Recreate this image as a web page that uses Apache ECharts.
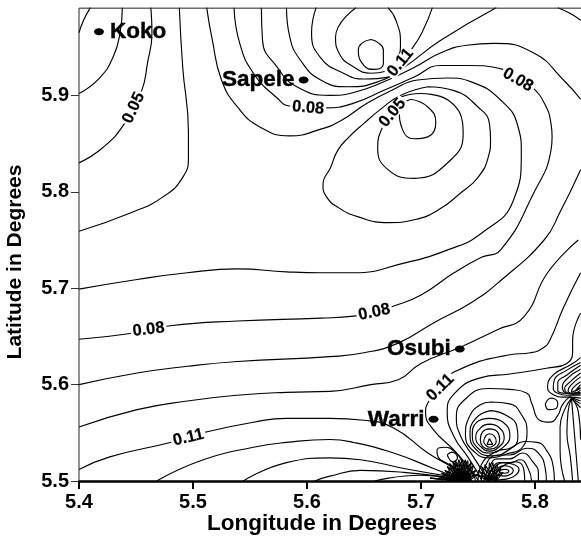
<!DOCTYPE html>
<html><head><meta charset="utf-8">
<style>html,body{margin:0;padding:0;background:#fff;overflow:hidden}#c{width:581px;height:539px}</style>
<script src="https://cdn.jsdelivr.net/npm/echarts@6/dist/echarts.min.js"></script>
</head><body><div id="c"></div>
<script>
// Contours, [longitude, latitude]
const t1=[[5.410,5.991],[5.404,5.978],[5.400,5.965]];
const t2=[[5.438,5.991],[5.436,5.965],[5.430,5.940],[5.418,5.918],[5.400,5.902]];
const t3=[[5.463,5.991],[5.464,5.965],[5.460,5.933],[5.455,5.905],[5.440,5.871],[5.421,5.846],[5.400,5.830]];
const t4=[[5.488,5.991],[5.491,5.929],[5.496,5.861],[5.496,5.836],[5.491,5.815],[5.474,5.795],[5.445,5.778],[5.400,5.759]];
const lineA=[[5.512,5.991],[5.517,5.957],[5.525,5.916],[5.539,5.888],[5.559,5.867],[5.585,5.858],[5.612,5.865],[5.630,5.874],[5.653,5.892],[5.674,5.905],[5.697,5.916],[5.724,5.918],[5.744,5.914],[5.770,5.895],[5.785,5.868],[5.788,5.840],[5.781,5.791],[5.753,5.757],[5.724,5.740],[5.685,5.726],[5.641,5.716],[5.612,5.716],[5.582,5.717],[5.539,5.720],[5.495,5.716],[5.451,5.709],[5.400,5.699]];
const lineB=[[5.536,5.991],[5.541,5.954],[5.553,5.923],[5.574,5.897],[5.585,5.889],[5.617,5.887],[5.641,5.892],[5.667,5.905],[5.694,5.919],[5.717,5.931],[5.741,5.931],[5.772,5.927],[5.785,5.918],[5.798,5.908],[5.809,5.890],[5.814,5.871],[5.815,5.857],[5.814,5.843],[5.799,5.799],[5.770,5.740],[5.753,5.732],[5.729,5.716],[5.700,5.693],[5.675,5.681],[5.659,5.675],[5.641,5.671],[5.612,5.669],[5.539,5.666],[5.480,5.661],[5.445,5.653],[5.400,5.647]];
const lineC=[[5.560,5.991],[5.561,5.957],[5.574,5.929],[5.591,5.909],[5.620,5.900],[5.641,5.903],[5.671,5.916],[5.694,5.929],[5.717,5.944],[5.740,5.952],[5.764,5.954],[5.799,5.944],[5.825,5.916],[5.840,5.896]];
const lineD=[[5.582,5.991],[5.585,5.960],[5.594,5.937],[5.612,5.916],[5.636,5.909],[5.662,5.914],[5.685,5.929],[5.717,5.957],[5.766,5.991]];
const lineE=[[5.608,5.991],[5.604,5.965],[5.612,5.939],[5.632,5.923],[5.650,5.917],[5.671,5.919],[5.693,5.950],[5.702,5.968],[5.710,5.991]];
const highOuter=[[5.643,5.991],[5.625,5.960],[5.629,5.942],[5.639,5.931],[5.656,5.923],[5.669,5.925],[5.679,5.937],[5.682,5.954],[5.678,5.978],[5.671,5.991]];
const highInner=[[5.656,5.958],[5.648,5.954],[5.645,5.947],[5.650,5.931],[5.659,5.927],[5.667,5.933],[5.667,5.947],[5.662,5.955],[5.656,5.958]];
const lowOuter=[[5.706,5.909],[5.682,5.900],[5.665,5.886],[5.650,5.871],[5.637,5.857],[5.627,5.843],[5.621,5.826],[5.614,5.807],[5.617,5.795],[5.627,5.784],[5.645,5.774],[5.671,5.768],[5.694,5.771],[5.715,5.781],[5.735,5.799],[5.750,5.815],[5.759,5.836],[5.761,5.854],[5.760,5.871],[5.750,5.888],[5.729,5.905],[5.706,5.909]];
const lowMiddle=[[5.700,5.902],[5.724,5.895],[5.737,5.861],[5.726,5.833],[5.694,5.814],[5.671,5.823],[5.662,5.846],[5.667,5.869],[5.675,5.882],[5.682,5.898],[5.700,5.902]];
const lowInner=[[5.691,5.896],[5.706,5.888],[5.713,5.872],[5.706,5.857],[5.694,5.855],[5.684,5.864],[5.681,5.885],[5.691,5.896]];
const cornerNE=[[5.820,5.991],[5.831,5.985],[5.840,5.978]];
const lineF=[[5.400,5.600],[5.451,5.612],[5.495,5.619],[5.539,5.624],[5.620,5.629],[5.650,5.633],[5.680,5.643],[5.711,5.664],[5.744,5.685],[5.770,5.708],[5.808,5.750],[5.822,5.779],[5.840,5.823]];
const lineG=[[5.400,5.556],[5.451,5.574],[5.495,5.583],[5.539,5.589],[5.582,5.592],[5.620,5.593],[5.656,5.600],[5.680,5.605],[5.700,5.622],[5.735,5.639],[5.767,5.657],[5.790,5.670],[5.811,5.716],[5.838,5.750]];
const lineH=[[5.840,5.716],[5.825,5.680],[5.813,5.646],[5.807,5.638],[5.796,5.633],[5.778,5.631],[5.729,5.613],[5.717,5.597],[5.706,5.581],[5.704,5.571],[5.711,5.553],[5.729,5.532],[5.744,5.511],[5.750,5.501]];
const lineI=[[5.840,5.674],[5.833,5.646],[5.833,5.636],[5.828,5.622],[5.810,5.617],[5.778,5.611],[5.752,5.607],[5.728,5.589],[5.723,5.571],[5.729,5.546],[5.741,5.525],[5.750,5.508],[5.753,5.501]];
const lineJ=[[5.831,5.588],[5.824,5.579],[5.820,5.568],[5.813,5.561],[5.804,5.563],[5.797,5.581],[5.793,5.591],[5.778,5.595],[5.759,5.596],[5.738,5.584],[5.731,5.566],[5.735,5.546],[5.746,5.525],[5.755,5.508],[5.758,5.501]];
const warriOuter=[[5.736,5.520],[5.730,5.530],[5.721,5.535],[5.714,5.532],[5.715,5.525],[5.725,5.517],[5.736,5.509]];
const warriInner=[[5.723,5.527],[5.727,5.530],[5.732,5.524],[5.728,5.520],[5.723,5.527]];
const fanE=[[5.400,5.512],[5.427,5.525],[5.480,5.540],[5.512,5.551],[5.553,5.561],[5.582,5.565],[5.620,5.565],[5.650,5.563],[5.676,5.555],[5.706,5.529],[5.729,5.513],[5.741,5.503]];
const fanF=[[5.468,5.500],[5.509,5.522],[5.553,5.535],[5.582,5.540],[5.620,5.543],[5.641,5.540],[5.676,5.529],[5.711,5.513],[5.732,5.503]];
const fanG=[[5.544,5.500],[5.582,5.519],[5.620,5.524],[5.647,5.522],[5.685,5.513],[5.729,5.504]];
const fanH=[[5.607,5.500],[5.620,5.505],[5.647,5.511],[5.685,5.509],[5.729,5.503]];
const fanJ=[[5.659,5.500],[5.699,5.506],[5.725,5.503]];
const ring1=[[5.760,5.544],[5.763,5.538],[5.758,5.538],[5.760,5.544]];
const ring2=[[5.760,5.549],[5.764,5.547],[5.766,5.541],[5.764,5.537],[5.760,5.535],[5.757,5.537],[5.755,5.541],[5.757,5.547],[5.760,5.549]];
const ring3=[[5.760,5.554],[5.767,5.551],[5.769,5.543],[5.767,5.536],[5.760,5.533],[5.754,5.536],[5.752,5.543],[5.754,5.551],[5.760,5.554]];
const ring4=[[5.760,5.559],[5.768,5.556],[5.773,5.545],[5.768,5.535],[5.760,5.531],[5.753,5.535],[5.748,5.545],[5.753,5.556],[5.760,5.559]];
const ring5=[[5.760,5.565],[5.772,5.561],[5.778,5.547],[5.771,5.534],[5.760,5.529],[5.750,5.534],[5.745,5.547],[5.749,5.561],[5.760,5.565]];
const ring6=[[5.761,5.573],[5.775,5.568],[5.784,5.557],[5.785,5.545],[5.778,5.533],[5.761,5.526],[5.748,5.533],[5.743,5.548],[5.748,5.565],[5.761,5.573]];
const ring7=[[5.761,5.582],[5.778,5.580],[5.788,5.569],[5.793,5.552],[5.789,5.535],[5.775,5.528],[5.761,5.524],[5.747,5.530],[5.739,5.548],[5.743,5.568],[5.752,5.579],[5.761,5.582]];
const arch1=[[5.750,5.500],[5.753,5.517],[5.765,5.530],[5.778,5.534],[5.791,5.541],[5.802,5.540],[5.810,5.532],[5.816,5.515],[5.817,5.500]];
const arch2=[[5.753,5.500],[5.756,5.515],[5.767,5.527],[5.778,5.527],[5.793,5.534],[5.803,5.529],[5.809,5.513],[5.810,5.500]];
const arch3=[[5.755,5.500],[5.759,5.512],[5.767,5.523],[5.778,5.523],[5.789,5.529],[5.798,5.520],[5.803,5.508],[5.803,5.500]];
const arch4=[[5.758,5.500],[5.761,5.510],[5.769,5.519],[5.778,5.519],[5.787,5.522],[5.794,5.513],[5.797,5.500]];
const arch5=[[5.760,5.500],[5.765,5.508],[5.774,5.517],[5.783,5.520],[5.790,5.513],[5.791,5.500]];
const oval0=[[5.768,5.510],[5.773,5.512],[5.777,5.510],[5.773,5.508],[5.768,5.510]];
const oval1=[[5.764,5.509],[5.773,5.516],[5.781,5.511],[5.773,5.505],[5.764,5.509]];
const oval2=[[5.760,5.507],[5.772,5.519],[5.786,5.512],[5.775,5.502],[5.762,5.501],[5.760,5.507]];
const drop2=[[5.832,5.586],[5.826,5.574],[5.822,5.556],[5.822,5.532],[5.826,5.500]];
const drop3=[[5.832,5.586],[5.829,5.572],[5.828,5.550],[5.831,5.525],[5.833,5.500]];
const drop4=[[5.832,5.586],[5.833,5.572],[5.835,5.543],[5.838,5.500]];
const drop5=[[5.832,5.586],[5.838,5.572],[5.840,5.543]];
const eastOval=[[5.809,5.580],[5.814,5.586],[5.820,5.581],[5.818,5.575],[5.812,5.574],[5.809,5.580]];
const east1=[[5.840,5.628],[5.832,5.621],[5.816,5.610],[5.811,5.597],[5.817,5.589],[5.824,5.587],[5.831,5.587],[5.840,5.586]];
const east2=[[5.840,5.623],[5.828,5.615],[5.817,5.605],[5.816,5.596],[5.820,5.591],[5.828,5.589],[5.840,5.589]];
const east3=[[5.840,5.620],[5.828,5.610],[5.820,5.602],[5.820,5.594],[5.826,5.591],[5.840,5.590]];
const east4=[[5.840,5.616],[5.829,5.607],[5.824,5.597],[5.826,5.592],[5.833,5.590],[5.840,5.591]];
const east5=[[5.840,5.612],[5.831,5.603],[5.826,5.596],[5.831,5.591],[5.840,5.592]];
const east6=[[5.840,5.608],[5.832,5.600],[5.829,5.594],[5.833,5.591],[5.840,5.594]];
const east7=[[5.840,5.603],[5.833,5.596],[5.832,5.592],[5.840,5.596]];
const east8=[[5.840,5.600],[5.835,5.593],[5.840,5.597]];
const east9=[[5.832,5.586],[5.840,5.580]];
const east10=[[5.832,5.586],[5.840,5.576]];
const east11=[[5.831,5.587],[5.840,5.583]];
const hubArc1=[[5.718,5.500],[5.725,5.511],[5.736,5.516],[5.744,5.510],[5.748,5.500]];
const hubArc2=[[5.723,5.500],[5.729,5.508],[5.736,5.510],[5.742,5.506],[5.744,5.500]];
// Crowded contours that converge on points at the lower edge
const hubCentres=[[5.736,5.500],[5.730,5.500],[5.742,5.500],[5.759,5.500],[5.766,5.500]];
const hubWestEnds=[[5.708,5.503],[5.714,5.505],[5.718,5.508],[5.721,5.511],[5.723,5.515],[5.725,5.518],[5.728,5.520],[5.730,5.521],[5.733,5.522],[5.736,5.522],[5.739,5.522],[5.741,5.521],[5.744,5.519],[5.746,5.516],[5.748,5.511],[5.750,5.507]];
const hubEastEnds=[[5.748,5.507],[5.750,5.511],[5.753,5.515],[5.756,5.517],[5.760,5.519],[5.763,5.519],[5.767,5.517],[5.770,5.513],[5.772,5.509]];

const contours=[t1,t2,t3,t4,lineA,lineB,lineC,lineD,lineE,highOuter,highInner,lowOuter,lowMiddle,lowInner,cornerNE,lineF,lineG,lineH,lineI,lineJ,warriOuter,warriInner,fanE,fanF,fanG,fanH,fanJ,ring1,ring2,ring3,ring4,ring5,ring6,ring7,arch1,arch2,arch3,arch4,arch5,oval0,oval1,oval2,drop2,drop3,drop4,drop5,eastOval,east1,east2,east3,east4,east5,east6,east7,east8,east9,east10,east11,hubArc1,hubArc2];

const frameLine=[[5.4,5.5],[5.4,5.9905],[5.9,5.9905]];
const labelNames=['0.05','0.08','0.11','0.05','0.08','0.08','0.11','0.08','0.11'];
const labelLon=[5.448,5.601,5.682,5.675,5.785,5.461,5.496,5.659,5.717];
const labelLat=[5.887,5.887,5.934,5.882,5.916,5.657,5.545,5.675,5.597];
const labelTilt=[65,-5,50,50,-30,7,13,12,45];
const cityNames=['Koko','Sapele','Osubi','Warri'];
const cityLon=[5.4175,5.597,5.734,5.711];
const cityLat=[5.966,5.916,5.637,5.564];
const citySide=['right','left','left','left'];

const lineBase={type:'line',symbol:'none',silent:true,animation:false,z:2,clip:true};
const series=contours.map(d=>({...lineBase,data:d,smooth:0.5,lineStyle:{color:'#000',width:1.15}}));
hubCentres.slice(0,3).forEach(c=>hubWestEnds.forEach(e=>series.push({...lineBase,data:[c,e],lineStyle:{color:'#000',width:1.1}})));
hubCentres.slice(3).forEach(c=>hubEastEnds.forEach(e=>series.push({...lineBase,data:[c,e],lineStyle:{color:'#000',width:1.1}})));
series.push({...lineBase,data:frameLine,lineStyle:{color:'#222',width:1},z:3});
series.push({type:'scatter',silent:true,animation:false,z:5,symbolSize:2,itemStyle:{color:'rgba(0,0,0,0)'},
  data:labelNames.map((n,i)=>({name:n,value:[labelLon[i],labelLat[i]],
    label:{show:true,position:'inside',rotate:labelTilt[i],formatter:n,color:'#000',opacity:1,fontFamily:'Liberation Sans',fontWeight:'bold',fontSize:16.5,backgroundColor:'#fff',padding:[0,2],lineHeight:13,textBorderColor:'#000',textBorderWidth:0.2}}))});
series.push({type:'scatter',silent:true,animation:false,z:6,symbol:'circle',symbolSize:[10,7],itemStyle:{color:'#000',opacity:1},
  data:cityNames.map((n,i)=>({name:n,value:[cityLon[i],cityLat[i]],
    label:{show:true,position:citySide[i],distance:n==='Koko'?6:4,formatter:n,color:'#000',opacity:1,fontFamily:'Liberation Sans',fontWeight:'bold',fontSize:22.5,textBorderColor:'#000',textBorderWidth:0.4}}))});

const chart=echarts.init(document.getElementById('c'),null,{renderer:'canvas'});
chart.setOption({
  animation:false,backgroundColor:'#fff',
  grid:{left:79,top:-1,width:570,height:482,containLabel:false,outerBoundsMode:'none'},
  xAxis:{type:'value',min:5.4,max:5.9,interval:0.1,splitLine:{show:false},
    axisLine:{show:true,onZero:false,lineStyle:{color:'#000',width:2.5}},
    axisTick:{length:8,lineStyle:{color:'#000',width:2}},
    axisLabel:{margin:11,color:'#000',fontFamily:'Liberation Sans',fontWeight:'bold',fontSize:20,formatter:v=>v.toFixed(1)}},
  yAxis:{type:'value',min:5.5,max:6.0,interval:0.1,splitLine:{show:false},
    axisLine:{show:false},
    axisTick:{length:8,lineStyle:{color:'#333',width:1}},
    axisLabel:{margin:10,showMaxLabel:false,color:'#000',fontFamily:'Liberation Sans',fontWeight:'bold',fontSize:20,formatter:v=>v.toFixed(1)}},
  graphic:[
    {type:'text',x:322,y:524,silent:true,style:{text:'Longitude in Degrees',fill:'#000',font:'bold 22.5px "Liberation Sans"',textAlign:'center',textVerticalAlign:'middle'}},
    {type:'text',x:15,y:262,rotation:Math.PI/2,silent:true,style:{text:'Latitude in Degrees',fill:'#000',font:'bold 21px "Liberation Sans"',textAlign:'center',textVerticalAlign:'middle'}}
  ],
  series
});
</script></body></html>
